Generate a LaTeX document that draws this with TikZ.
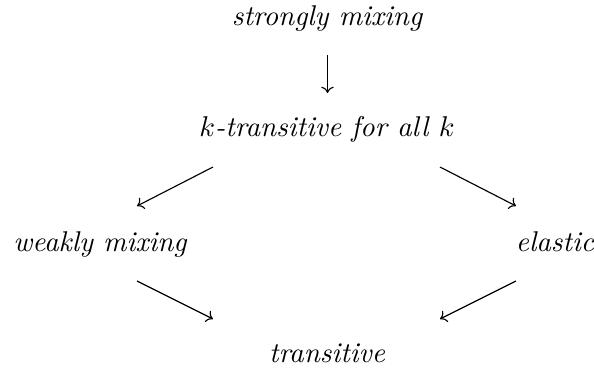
\documentclass[tikz,border=0pt]{standalone}
\usetikzlibrary{arrows.meta}
\begin{document}
\begin{tikzpicture}[x=0.35pt,y=-0.35pt,
  lbl/.style={anchor=base,inner sep=0pt,font=\itshape},
  imp/.style={-{To[length=2.2pt,width=4.4pt]},line width=0.4pt}]
\useasboundingbox (0,0) rectangle (594,372);
\node[lbl] (sm) at (327,25) {strongly mixing};
\node[lbl] (kt) at (327,136) {$k$-transitive for all $k$};
\node[lbl] (wm) at (100,251) {weakly mixing};
\node[lbl] (el) at (555,251) {elastic};
\node[lbl] (tr) at (327,362) {transitive};
\coordinate (a1) at (327.5,55); \coordinate (a2) at (327.5,93);
\coordinate (b1) at (213,167); \coordinate (b2) at (137,206);
\coordinate (c1) at (440,167); \coordinate (c2) at (516,206);
\coordinate (d1) at (137,281); \coordinate (d2) at (213,319);
\coordinate (e1) at (516,281); \coordinate (e2) at (440,319);
\draw[imp] (a1) -- (a2);
\draw[imp] (b1) -- (b2);
\draw[imp] (c1) -- (c2);
\draw[imp] (d1) -- (d2);
\draw[imp] (e1) -- (e2);
\end{tikzpicture}
\end{document}
